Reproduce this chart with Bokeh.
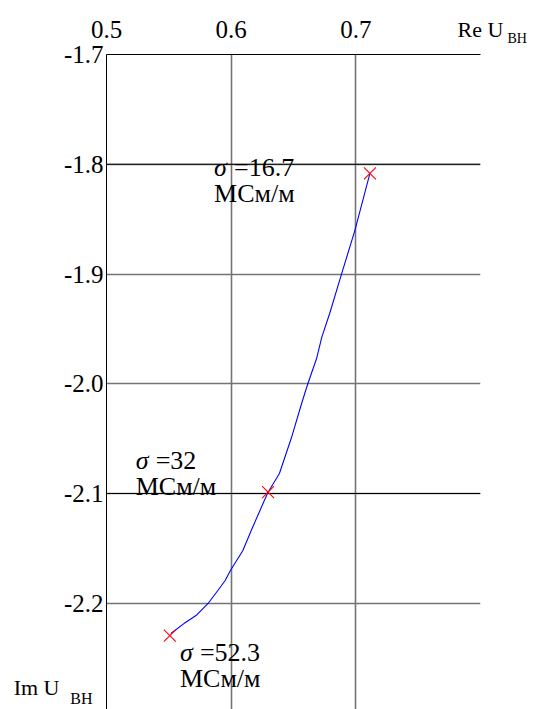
from bokeh.plotting import figure
from bokeh.models import FixedTicker, PrintfTickFormatter, Span, Range1d, LinearAxis
from bokeh.core.properties import value
from bokeh.embed import file_html
from bokeh.resources import INLINE

# ---- data ----
curve_re = [0.5516, 0.5621, 0.5718, 0.5815, 0.5893, 0.5952, 0.5994, 0.6094,
            0.6161, 0.6266, 0.6296, 0.6387, 0.6484, 0.6565, 0.6613, 0.6685,
            0.6726, 0.6790, 0.6887, 0.6992, 0.7113]
curve_im = [-2.2276, -2.2185, -2.2112, -2.2002, -2.1884, -2.1793, -2.1702, -2.1519,
            -2.1337, -2.1064, -2.0988, -2.0818, -2.0490, -2.0180, -2.0007, -1.9770,
            -1.9579, -1.9360, -1.8995, -1.8604, -1.8084]

marker_re = [0.7113, 0.6296, 0.5508]
marker_im = [-1.8084, -2.0988, -2.2294]

sigma_values = ["=16.7", "=32", "=52.3"]
unit_text = ["МСм/м", "МСм/м", "МСм/м"]
label_re = [0.5863, 0.5234, 0.5589]
label_im = [-1.8121, -2.0790, -2.2540]

x_ticks = [0.5, 0.6, 0.7]
x_grid = [0.6, 0.7, 0.8]
y_ticks = [-1.7, -1.8, -1.9, -2.0, -2.1, -2.2]
y_grid = [-1.8, -1.9, -2.0, -2.1, -2.2]
black_lines = [-1.8, -2.1]

re_axis_name = "Re U"
im_axis_name = "Im U"
axis_sub = "BH"
re_name_at = 0.7999
im_name_at = -2.2763
im_sub_at = -2.2868

FONT = "Times New Roman"
NBSP = "\u00a0"

p = figure(width=541, height=709, x_range=Range1d(0.5, 0.8),
           y_range=Range1d(-2.2968, -1.7), x_axis_location="above",
           output_backend="svg", toolbar_location=None,
           min_border_left=106, min_border_right=61, min_border_top=54,
           min_border_bottom=0, outline_line_color=None)


def plain(ax, size, standoff):
    ax.major_tick_out = 0
    ax.major_tick_in = 0
    ax.minor_tick_out = 0
    ax.minor_tick_in = 0
    ax.major_label_text_font = FONT
    ax.major_label_text_font_size = size
    ax.major_label_text_color = "black"
    ax.major_label_standoff = standoff


for ax in (p.xaxis[0], p.yaxis[0]):
    ax.axis_line_color = "black"
    ax.axis_line_width = 1
    ax.formatter = PrintfTickFormatter(format="%.1f")
plain(p.xaxis[0], "25px", 17)
plain(p.yaxis[0], "25px", 3)
p.xaxis.ticker = FixedTicker(ticks=x_ticks)
p.yaxis.ticker = FixedTicker(ticks=y_ticks)

# axis names as extra tick-label-only axes
ax_re = LinearAxis(ticker=FixedTicker(ticks=[re_name_at]),
                   major_label_overrides={re_name_at: re_axis_name},
                   axis_line_color=None)
plain(ax_re, "22px", -24)
p.add_layout(ax_re, "above")
ax_re_sub = LinearAxis(ticker=FixedTicker(ticks=[re_name_at]),
                       major_label_overrides={re_name_at: NBSP * 21 + axis_sub},
                       axis_line_color=None)
plain(ax_re_sub, "14px", -32)
p.add_layout(ax_re_sub, "above")

ax_im = LinearAxis(ticker=FixedTicker(ticks=[im_name_at]),
                   major_label_overrides={im_name_at: im_axis_name},
                   axis_line_color=None)
plain(ax_im, "22px", 1)
p.add_layout(ax_im, "left")
ax_im_sub = LinearAxis(ticker=FixedTicker(ticks=[im_sub_at]),
                       major_label_overrides={im_sub_at: axis_sub},
                       axis_line_color=None)
plain(ax_im_sub, "16px", -82)
p.add_layout(ax_im_sub, "left")

p.xgrid.ticker = FixedTicker(ticks=x_grid)
p.ygrid.ticker = FixedTicker(ticks=y_grid)
for g in (p.xgrid[0], p.ygrid[0]):
    g.grid_line_color = "#747474"
    g.grid_line_width = 1.6

for yv in black_lines:
    p.add_layout(Span(location=yv, dimension="width", line_color="black",
                      line_width=1, level="underlay"))

p.line(curve_re, curve_im, line_color="#0000ff", line_width=1.1)
p.scatter(marker_re, marker_im, marker="x", size=17, line_color="red", line_width=1.1)

p.text(x=label_re, y=label_im, text=["σ"] * 3, text_font=value(FONT),
       text_font_style="italic", text_font_size="26px", text_color="black",
       y_offset=-10, text_baseline="alphabetic", text_align="left")
p.text(x=label_re, y=label_im, text=sigma_values, text_font=value(FONT),
       text_font_size="26px", text_color="black", x_offset=20, y_offset=-10,
       text_baseline="alphabetic", text_align="left")
p.text(x=label_re, y=label_im, text=unit_text, text_font=value(FONT),
       text_font_size="26px", text_color="black", y_offset=16,
       text_baseline="alphabetic", text_align="left")

open("out.html", "w").write(file_html(p, INLINE))
